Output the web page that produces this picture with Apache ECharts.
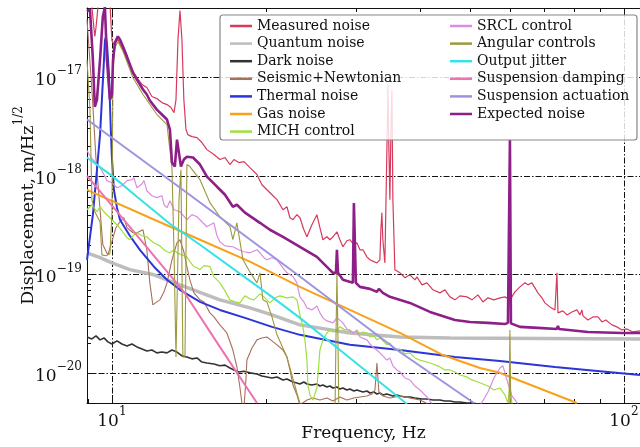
<!DOCTYPE html>
<html><head><meta charset="utf-8">
<script src="https://cdn.jsdelivr.net/npm/echarts@6/dist/echarts.min.js"></script>
<style>html,body{margin:0;padding:0;background:#fff}#c{width:640px;height:447px}</style>
</head><body><div id="c"></div>
<script>
// ---- data: [frequency Hz, displacement m/Hz^1/2] ----
const measuredNoise = [[8.94,5.56e-17],[9.06,5.69e-17],[9.14,5.07e-17],[9.22,3.18e-17],[9.26,2.58e-17],[9.31,3.18e-17],[9.39,5.07e-17],[9.48,5.83e-17],[9.91,5.83e-17],[9.95,3.83e-17],[10.0,2.34e-17],[10.09,2.14e-17],[10.27,2.40e-17],[10.46,1.99e-17],[10.70,1.50e-17],[10.94,1.19e-17],[11.19,9.88e-18],[11.45,8.39e-18],[11.70,7.83e-18],[11.97,6.34e-18],[12.24,6.05e-18],[12.52,5.51e-18],[12.81,5.26e-18],[13.04,4.91e-18],[13.22,4.36e-18],[13.34,5.91e-18],[13.46,2.40e-17],[13.58,4.72e-17],[13.70,2.40e-17],[13.82,5.91e-18],[13.95,2.94e-18],[14.07,2.61e-18],[14.33,2.49e-18],[14.66,2.43e-18],[14.99,2.17e-18],[15.33,1.84e-18],[15.82,1.64e-18],[16.25,1.46e-18],[16.63,1.53e-18],[17.00,1.30e-18],[17.31,1.46e-18],[17.70,1.36e-18],[18.11,1.39e-18],[18.60,1.21e-18],[19.20,1.03e-18],[19.63,8.12e-19],[20.08,7.22e-19],[20.54,6.43e-19],[21.01,5.73e-19],[21.58,4.53e-19],[21.97,4.86e-19],[22.27,3.76e-19],[22.57,3.59e-19],[22.98,4.04e-19],[23.29,3.76e-19],[23.71,2.84e-19],[24.04,2.41e-19],[24.58,3.19e-19],[25.14,4.04e-19],[25.48,2.98e-19],[25.83,2.25e-19],[26.30,2.41e-19],[26.66,2.25e-19],[27.02,2.41e-19],[27.51,2.71e-19],[27.88,2.25e-19],[28.26,1.91e-19],[28.77,2.20e-19],[29.16,2.25e-19],[29.69,2.00e-19],[30.09,2.10e-19],[30.51,1.78e-19],[30.92,1.78e-19],[31.48,1.51e-19],[31.91,1.41e-19],[32.49,1.35e-19],[32.93,1.31e-19],[33.37,1.41e-19],[33.52,2.84e-19],[33.67,4.23e-19],[33.82,2.25e-19],[34.13,1.31e-19],[34.44,1.84e-18],[34.60,8.39e-18],[34.75,1.84e-18],[34.91,5.73e-19],[35.07,2.94e-18],[35.23,7.47e-18],[35.38,5.73e-19],[35.70,1.12e-19],[36.52,1.04e-19],[37.35,9.27e-20],[38.19,9.93e-20],[39.07,8.84e-20],[39.42,9.48e-20],[40.32,7.86e-20],[41.24,8.24e-20],[42.36,7.00e-20],[43.71,6.52e-20],[44.71,7.00e-20],[45.73,5.94e-20],[46.77,5.54e-20],[47.83,6.08e-20],[49.36,5.94e-20],[50.48,5.54e-20],[51.86,6.22e-20],[53.04,5.28e-20],[54.25,5.81e-20],[55.74,5.54e-20],[57.26,5.81e-20],[58.56,5.94e-20],[59.89,5.54e-20],[61.25,6.68e-20],[62.65,7.50e-20],[64.07,8.24e-20],[64.94,7.86e-20],[66.11,8.24e-20],[67.02,7.33e-20],[67.92,6.52e-20],[69.16,5.81e-20],[70.09,5.16e-20],[71.70,4.70e-20],[73.33,4.38e-20],[73.99,1.04e-19],[74.33,4.09e-20],[76.0,4.28e-20],[77.40,3.90e-20],[79.15,4.18e-20],[80.94,4.38e-20],[82.05,3.90e-20],[82.79,4.38e-20],[83.17,3.81e-20],[85.04,3.47e-20],[87.0,3.72e-20],[88.97,3.72e-20],[90.6,3.31e-20],[92.2,3.47e-20],[94.76,3.09e-20],[96.9,2.95e-20],[99.1,2.75e-20],[101.4,2.81e-20],[104.1,2.62e-20],[107.5,2.69e-20]];

const quantumNoise = [[8.94,1.66e-19],[9.48,1.48e-19],[10.0,1.31e-19],[10.84,1.12e-19],[12.08,9.93e-20],[13.58,7.86e-20],[16.25,5.54e-20],[18.60,4.59e-20],[20.54,3.90e-20],[23.29,3.09e-20],[29.16,2.56e-20],[36.52,2.33e-20],[45.73,2.28e-20],[107.5,2.23e-20]];

const darkNoise = [[8.94,2.33e-20],[9.14,2.23e-20],[9.31,2.39e-20],[9.48,2.18e-20],[9.65,2.28e-20],[9.82,2.08e-20],[10.0,1.98e-20],[10.23,2.13e-20],[10.46,1.98e-20],[10.70,1.89e-20],[10.94,1.98e-20],[11.19,1.85e-20],[11.45,1.76e-20],[11.70,1.68e-20],[11.97,1.72e-20],[12.24,1.61e-20],[12.52,1.64e-20],[12.81,1.61e-20],[13.10,1.72e-20],[13.40,1.64e-20],[13.70,1.50e-20],[14.01,1.46e-20],[14.33,1.40e-20],[14.66,1.43e-20],[14.99,1.30e-20],[15.33,1.27e-20],[15.82,1.24e-20],[16.25,1.19e-20],[16.63,1.21e-20],[17.00,1.13e-20],[17.31,1.08e-20],[17.70,1.03e-20],[18.11,1.05e-20],[18.60,1.01e-20],[19.20,9.84e-21],[19.63,9.39e-21],[20.08,9.18e-21],[20.54,8.96e-21],[21.01,9.18e-21],[21.58,8.56e-21],[21.97,8.75e-21],[22.57,8.16e-21],[22.98,7.97e-21],[23.29,7.78e-21],[23.71,8.16e-21],[24.04,7.78e-21],[24.58,7.61e-21],[25.14,7.78e-21],[25.48,7.43e-21],[25.83,7.61e-21],[26.30,7.26e-21],[26.66,7.43e-21],[27.02,7.10e-21],[27.51,7.26e-21],[27.88,6.93e-21],[28.26,7.10e-21],[28.77,6.77e-21],[29.16,6.93e-21],[29.69,6.61e-21],[30.09,6.77e-21],[30.51,6.61e-21],[30.92,6.46e-21],[31.48,6.61e-21],[31.91,6.31e-21],[32.49,6.46e-21],[32.93,6.17e-21],[33.37,6.31e-21],[33.82,6.03e-21],[34.44,6.17e-21],[34.91,6.03e-21],[35.38,5.89e-21],[36.03,6.03e-21],[36.52,5.89e-21],[37.35,5.75e-21],[38.19,5.75e-21],[39.07,5.61e-21],[40.32,5.48e-21],[41.24,5.48e-21],[42.36,5.36e-21],[43.71,5.36e-21],[44.71,5.24e-21],[45.73,5.24e-21],[46.77,5.12e-21],[47.83,5.12e-21],[49.36,5.00e-21],[50.48,5.00e-21],[51.86,4.89e-21],[53.04,4.89e-21]];

const seismicNewtonian = [[8.94,3.83e-17],[9.14,7.47e-18],[9.31,1.46e-18],[9.48,4.53e-19],[9.60,2.00e-19],[9.82,1.58e-19],[10.0,2.15e-19],[10.18,2.98e-19],[10.37,3.42e-19],[10.55,3.76e-19],[10.70,2.98e-19],[10.99,2.65e-19],[11.19,2.65e-19],[11.50,2.84e-19],[11.70,1.78e-19],[11.86,8.24e-20],[12.02,4.93e-20],[12.24,5.28e-20],[12.41,5.54e-20],[12.64,6.68e-20],[12.81,8.24e-20],[13.10,1.41e-19],[13.40,2.10e-19],[13.58,2.25e-19],[13.82,1.70e-19],[14.01,1.20e-19],[14.20,8.84e-20],[14.46,6.52e-20],[14.86,5.54e-20],[15.13,5.28e-20],[15.54,4.09e-20],[15.82,3.72e-20],[16.25,3.09e-20],[16.77,2.56e-20],[17.23,1.72e-20],[17.54,1.16e-20],[17.78,7.26e-21],[17.94,5.0e-21],[18.11,4.45e-21],[18.27,8.56e-21],[18.35,1.36e-20],[18.77,1.80e-20],[19.20,2.18e-20],[19.63,2.28e-20],[20.08,2.33e-20],[20.54,2.13e-20],[21.01,1.94e-20],[21.58,1.72e-20],[21.97,1.46e-20],[22.27,1.08e-20],[22.57,7.61e-21],[22.98,6.03e-21],[23.29,4.77e-21],[24.04,5.36e-21],[24.69,5.61e-21],[25.48,5.36e-21],[26.30,5.61e-21],[27.02,5.24e-21],[27.88,5.75e-21],[28.77,5.36e-21],[29.69,5.61e-21],[30.51,5.75e-21],[31.48,5.89e-21],[32.20,6.17e-21],[32.64,6.77e-21],[32.93,1.27e-20],[33.22,6.46e-21],[33.82,5.89e-21],[34.91,5.61e-21],[36.52,5.89e-21],[38.19,5.61e-21],[39.96,5.36e-21],[41.80,4.77e-21],[45.73,4.05e-21]];

const thermalNoise = [[8.94,1.41e-19],[9.18,4.04e-19],[9.35,1.15e-18],[9.48,2.61e-18],[9.56,5.91e-18],[9.65,1.50e-17],[9.69,2.34e-17],[9.73,2.52e-17],[9.78,2.14e-17],[9.87,1.06e-17],[9.95,2.94e-18],[10.0,1.53e-18],[10.09,7.22e-19],[10.23,4.75e-19],[10.37,3.59e-19],[10.60,2.98e-19],[10.84,2.47e-19],[11.34,1.78e-19],[12.08,1.20e-19],[12.81,8.84e-20],[13.58,7.00e-20],[14.86,5.28e-20],[16.25,4.38e-20],[18.19,3.64e-20],[20.54,2.95e-20],[23.29,2.45e-20],[29.16,1.94e-20],[36.52,1.72e-20],[46.77,1.46e-20],[57.26,1.33e-20],[73.33,1.16e-20],[89.78,1.05e-20],[107.5,9.61e-21]];

const gasNoise = [[8.94,7.2e-19],[11.86,3.76e-19],[14.86,2.25e-19],[18.60,1.35e-19],[23.29,7.5e-20],[29.16,4.38e-20],[36.52,2.56e-20],[44.3,1.53e-20],[52.33,1.13e-20],[57.26,1.01e-20],[62.65,8.4e-21],[80.94,5.0e-21]];

const michControl = [[8.94,4.53e-19],[9.14,5.09e-19],[9.35,4.32e-19],[9.48,4.86e-19],[9.65,4.32e-19],[9.82,3.94e-19],[10.0,3.59e-19],[10.27,3.12e-19],[10.46,2.77e-19],[10.55,2.84e-19],[10.70,2.36e-19],[10.84,2.25e-19],[10.99,2.47e-19],[11.19,2.65e-19],[11.45,2.47e-19],[11.70,2.41e-19],[11.86,2.25e-19],[12.08,2.10e-19],[12.41,1.95e-19],[12.64,1.78e-19],[12.81,1.70e-19],[12.98,1.66e-19],[13.22,1.78e-19],[13.40,1.66e-19],[13.70,1.58e-19],[14.01,1.51e-19],[14.20,1.35e-19],[14.46,1.20e-19],[14.66,1.17e-19],[14.86,1.12e-19],[15.13,1.23e-19],[15.54,1.20e-19],[15.82,9.48e-20],[16.04,8.84e-20],[16.25,8.24e-20],[16.63,6.83e-20],[17.00,5.54e-20],[17.39,5.28e-20],[17.78,5.16e-20],[18.19,6.08e-20],[18.60,5.67e-20],[18.94,5.54e-20],[19.46,6.37e-20],[19.81,5.94e-20],[20.35,5.16e-20],[20.82,5.81e-20],[21.29,6.08e-20],[21.97,5.81e-20],[22.57,5.94e-20],[22.98,5.54e-20],[23.29,3.90e-20],[23.61,2.95e-20],[23.82,2.18e-20],[24.04,1.36e-20],[24.14,7.61e-21],[24.36,6.03e-21],[24.69,5.36e-21],[25.14,7.10e-21],[25.48,1.72e-20],[25.83,2.18e-20],[26.30,2.56e-20],[26.66,2.75e-20],[27.02,2.62e-20],[27.51,2.75e-20],[27.88,2.95e-20],[28.52,2.75e-20],[29.16,2.75e-20],[29.69,2.56e-20],[30.09,2.75e-20],[30.51,2.45e-20],[30.92,2.62e-20],[31.48,2.56e-20],[31.91,2.33e-20],[32.49,2.39e-20],[32.93,2.18e-20],[33.37,2.28e-20],[33.82,2.13e-20],[34.44,1.94e-20],[34.91,2.03e-20],[35.38,1.80e-20],[36.03,1.72e-20],[36.52,1.76e-20],[37.35,1.57e-20],[38.19,1.61e-20],[39.07,1.43e-20],[39.96,1.36e-20],[41.24,1.30e-20],[42.36,1.24e-20],[43.71,1.16e-20],[44.71,1.08e-20],[45.73,1.08e-20],[46.77,1.03e-20],[47.83,9.61e-21],[49.36,9.18e-21],[50.48,8.56e-21],[51.86,8.16e-21],[53.04,7.78e-21],[54.25,7.43e-21],[55.74,6.77e-21],[57.26,7.10e-21],[58.56,6.03e-21],[59.36,5.0e-21],[59.89,7.61e-21],[60.43,5.0e-21],[61.25,3.78e-21]];

const srclControl = [[8.94,1.80e-18],[9.10,1.53e-18],[9.22,1.42e-18],[9.35,1.30e-18],[9.48,1.21e-18],[9.65,1.03e-18],[9.78,8.92e-19],[10.0,8.51e-19],[10.23,7.57e-19],[10.46,7.93e-19],[10.70,8.92e-19],[10.94,9.13e-19],[11.04,9.57e-19],[11.19,7.57e-19],[11.45,8.31e-19],[11.55,8.92e-19],[11.70,7.06e-19],[11.97,6.28e-19],[12.24,6.00e-19],[12.52,6.28e-19],[12.64,5.09e-19],[12.81,4.75e-19],[12.98,5.59e-19],[13.22,4.53e-19],[13.58,4.32e-19],[14.01,3.59e-19],[14.33,4.04e-19],[14.66,3.85e-19],[14.99,3.42e-19],[15.33,3.05e-19],[15.82,3.34e-19],[16.04,2.47e-19],[16.25,2.15e-19],[16.63,1.95e-19],[17.23,1.91e-19],[17.70,1.78e-19],[18.11,1.70e-19],[18.60,1.66e-19],[19.20,1.78e-19],[19.46,1.66e-19],[19.81,1.48e-19],[20.08,1.41e-19],[20.54,1.48e-19],[21.01,1.41e-19],[21.58,1.17e-19],[21.97,1.04e-19],[22.57,9.56e-20],[22.98,8.24e-20],[23.29,5.94e-20],[23.71,5.28e-20],[24.04,4.59e-20],[24.58,4.38e-20],[25.14,4.81e-20],[25.48,4.09e-20],[25.83,3.64e-20],[26.30,3.39e-20],[27.02,3.24e-20],[27.51,3.64e-20],[28.26,3.24e-20],[28.77,2.81e-20],[29.56,2.56e-20],[30.09,2.69e-20],[30.51,2.33e-20],[31.48,2.18e-20],[31.91,1.98e-20],[32.49,1.80e-20],[32.93,1.72e-20],[33.82,1.50e-20],[34.44,1.36e-20],[34.91,1.43e-20],[35.38,1.19e-20],[36.03,1.08e-20],[36.52,1.03e-20],[37.35,8.96e-21],[38.19,8.56e-21],[39.07,7.43e-21],[39.96,6.77e-21],[41.24,5.75e-21],[42.36,4.77e-21],[46.77,3.36e-21],[52.33,4.66e-21],[54.25,6.46e-21],[55.74,8.96e-21],[57.26,1.13e-20],[58.04,1.19e-20],[59.09,8.56e-21],[60.43,5.89e-21],[62.09,4.89e-21],[64.07,3.36e-21]];

const angularControls = [[8.94,1.50e-17],[9.06,4.68e-18],[9.14,5.73e-19],[9.26,4.32e-19],[9.39,3.76e-19],[9.48,3.42e-19],[9.56,1.58e-19],[9.73,1.55e-19],[9.91,1.62e-19],[10.0,4.04e-19],[10.05,1.19e-17],[10.14,1.99e-17],[10.27,2.29e-17],[10.51,1.82e-17],[10.99,9.88e-18],[11.50,6.65e-18],[12.24,4.17e-18],[12.81,3.30e-18],[13.10,1.21e-18],[13.22,1.78e-19],[13.34,1.46e-20],[13.46,1.46e-20],[13.52,5.73e-19],[13.64,1.15e-18],[13.76,1.46e-20],[13.89,1.46e-20],[14.01,1.30e-18],[14.20,1.24e-18],[14.86,9.13e-19],[15.54,5.34e-19],[16.25,3.85e-19],[16.63,3.42e-19],[17.00,3.05e-19],[17.23,2.25e-19],[17.54,3.34e-19],[18.03,1.41e-19],[18.60,1.06e-19],[19.20,8.24e-20],[19.46,1.04e-19],[19.72,5.54e-20],[20.08,5.28e-20],[20.54,3.72e-20],[21.01,2.45e-20],[21.97,1.46e-20],[22.98,6.31e-21],[23.50,4.24e-21],[27.26,3.36e-21],[27.39,2.18e-20],[27.51,1.04e-19],[27.64,2.18e-20],[27.76,3.36e-21],[59.62,3.36e-21],[59.89,2.75e-20],[60.16,3.36e-21]];

const outputJitter = [[8.94,1.53e-18],[10.05,9.80e-19],[11.19,6.14e-19],[12.98,3.27e-19],[14.86,2.00e-19],[17.78,1.02e-19],[20.54,5.94e-20],[23.29,3.64e-20],[29.16,1.43e-20],[37.69,4.89e-21]];

const suspensionDamping = [[8.94,1.00e-18],[9.78,5.73e-19],[11.86,1.74e-19],[13.82,6.68e-20],[16.25,1.85e-20],[19.20,5.0e-21]];

const suspensionActuation = [[8.94,3.71e-18],[14.01,6.74e-19],[23.29,9.56e-20],[36.03,1.72e-20],[50.93,5.0e-21]];

const expectedNoise = [[8.94,4.6e-17],[9.06,4.84e-17],[9.18,1.5e-17],[9.26,5.0e-18],[9.35,5.9e-18],[9.48,1.5e-17],[9.60,4.1e-17],[9.69,5.1e-17],[9.78,1.5e-17],[9.91,5.9e-18],[10.0,6.6e-18],[10.05,1.5e-17],[10.14,2.24e-17],[10.27,2.58e-17],[10.37,2.4e-17],[10.51,2.04e-17],[10.70,1.61e-17],[10.99,1.11e-17],[11.19,9.44e-18],[11.50,7.47e-18],[11.70,6.65e-18],[11.86,5.78e-18],[12.24,4.68e-18],[12.52,4.17e-18],[12.81,3.71e-18],[12.98,2.94e-18],[13.10,1.36e-18],[13.27,1.24e-18],[13.40,2.32e-18],[13.52,2.32e-18],[13.64,1.24e-18],[13.82,1.46e-18],[14.01,1.56e-18],[14.40,1.53e-18],[14.86,1.30e-18],[15.33,9.8e-19],[16.04,7.75e-19],[16.63,6.43e-19],[17.23,4.86e-19],[17.54,5.09e-19],[18.19,4.23e-19],[19.46,3.34e-19],[20.35,2.84e-19],[21.58,2.41e-19],[23.29,1.91e-19],[25.14,1.51e-19],[27.02,1.04e-19],[27.39,1.04e-19],[27.51,1.78e-19],[27.64,1.04e-19],[28.26,8.84e-20],[29.56,8.24e-20],[29.69,5.3e-19],[29.96,8.24e-20],[30.51,7.5e-20],[31.91,7.16e-20],[32.93,6.68e-20],[33.22,7.16e-20],[33.82,6.52e-20],[34.91,5.94e-20],[38.19,5.16e-20],[41.80,4.18e-20],[46.77,3.47e-20],[50.03,3.31e-20],[54.25,3.24e-20],[58.56,3.16e-20],[59.36,3.24e-20],[59.62,3.2e-20],[59.89,2.3e-18],[60.16,3.2e-20],[62.65,2.95e-20],[67.92,2.88e-20],[73.99,2.81e-20],[74.33,3.02e-20],[74.66,2.81e-20],[85.04,2.62e-20],[99.1,2.56e-20],[107.5,2.56e-20]];

const seriesNames = ['Measured noise','Quantum noise','Dark noise','Seismic+Newtonian','Thermal noise','Gas noise','MICH control','SRCL control','Angular controls','Output jitter','Suspension damping','Suspension actuation','Expected noise'];
const seriesData = [measuredNoise, quantumNoise, darkNoise, seismicNewtonian, thermalNoise, gasNoise, michControl, srclControl, angularControls, outputJitter, suspensionDamping, suspensionActuation, expectedNoise];
const seriesColors = ['#d83a5c','#bdbdbd','#333333','#a8705a','#2b35d8','#f7a21b','#9fe03c','#da8ce2','#9c983c','#36e2e8','#ee72b0','#9d94e0','#8e1e88'];
const seriesWidths = [1.2,3.5,1.6,1.1,2,2,1.2,1.2,1.1,2,2,2,2.6];
const xRange = [8.94, 107.5];
const yRange = [5e-21, 5e-17];

const SERIF = 'DejaVu Serif';
function powLabel(v) {
  const l = Math.log10(v), e = Math.round(l);
  if (Math.abs(l - e) > 1e-6) return '';
  return '{b|10}{s|' + String(e).replace('-', '\u2212') + '}';
}
const labelRich = {
  b: {fontFamily: SERIF, fontSize: 17, color: '#111', lineHeight: 24, verticalAlign: 'bottom'},
  s: {fontFamily: SERIF, fontSize: 12, color: '#111', lineHeight: 13, verticalAlign: 'top'}
};
const gridDash = {color: '#111', width: 1, type: [6, 2, 1.5, 2]};

const chart = echarts.init(document.getElementById('c'), null, {renderer: 'canvas'});
const legendStyle = {
  orient: 'vertical', itemWidth: 22, itemHeight: 2.5, itemGap: 2.6, icon: 'rect', z: 20,
  textStyle: {fontFamily: SERIF, fontSize: 14, color: '#111', lineHeight: 15}
};
chart.setOption({
  animation: false,
  backgroundColor: '#fff',
  grid: {left: 87, right: 0, top: 8, bottom: 44, containLabel: false, outerBoundsMode: 'none', show: false},
  xAxis: [{
    type: 'log', logBase: 10, min: xRange[0], max: xRange[1],
    name: 'Frequency, Hz', nameLocation: 'middle', nameGap: 22, nameMoveOverlap: false,
    nameTextStyle: {fontFamily: SERIF, fontSize: 17, color: '#111'},
    axisLine: {lineStyle: {color: '#111'}},
    axisTick: {inside: true, length: 8, lineStyle: {color: '#111'}},
    minorTick: {show: true, splitNumber: 9, length: 4, lineStyle: {color: '#111'}},
    splitLine: {show: true, lineStyle: gridDash},
    axisLabel: {formatter: powLabel, rich: labelRich, margin: 3, showMinLabel: false, showMaxLabel: false}
  }, {
    type: 'log', logBase: 10, min: xRange[0], max: xRange[1], position: 'top',
    axisLine: {show: true, lineStyle: {color: '#111'}},
    axisTick: {inside: true, length: 8, lineStyle: {color: '#111'}},
    minorTick: {show: true, splitNumber: 9, length: 4, lineStyle: {color: '#111'}},
    splitLine: {show: false}, axisLabel: {show: false}
  }],
  yAxis: {
    type: 'log', logBase: 10, min: yRange[0], max: yRange[1],
    name: '{a|Displacement, m/Hz}{s|1/2}', nameLocation: 'middle', nameGap: 50, nameRotate: 90,
    nameMoveOverlap: false,
    nameTextStyle: {rich: {
      a: {fontFamily: SERIF, fontSize: 17.5, color: '#111', lineHeight: 24, verticalAlign: 'bottom'},
      s: {fontFamily: SERIF, fontSize: 12, color: '#111', lineHeight: 13, verticalAlign: 'top'}
    }},
    axisLine: {lineStyle: {color: '#111'}},
    axisTick: {inside: true, length: 8, lineStyle: {color: '#111'}},
    minorTick: {show: true, splitNumber: 9, length: 4, lineStyle: {color: '#111'}},
    splitLine: {show: true, lineStyle: gridDash},
    axisLabel: {formatter: powLabel, rich: labelRich, margin: 5, showMinLabel: false, showMaxLabel: false}
  },
  graphic: [{
    type: 'rect', z: 15, shape: {x: 220, y: 15, width: 417, height: 125, r: 3},
    style: {fill: 'rgba(255,255,255,0.82)', stroke: '#888', lineWidth: 1.2}
  }],
  legend: [
    Object.assign({left: 225, top: 13.5, data: seriesNames.slice(0, 7)}, legendStyle),
    Object.assign({left: 445, top: 13.5, data: seriesNames.slice(7)}, legendStyle)
  ],
  series: seriesNames.map((n, i) => ({
    name: n, type: 'line', data: seriesData[i], showSymbol: false, symbol: 'none',
    clip: true, color: seriesColors[i],
    lineStyle: {color: seriesColors[i], width: seriesWidths[i]},
    emphasis: {disabled: true}
  }))
});
</script></body></html>
